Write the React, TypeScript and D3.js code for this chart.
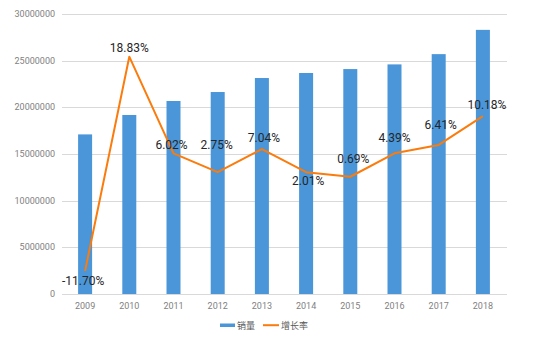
import React, { useEffect, useRef } from "react";
import * as d3 from "d3";

const years = ["2009", "2010", "2011", "2012", "2013", "2014", "2015", "2016", "2017", "2018"];
const sales = [17100000, 19180000, 20680000, 21640000, 23140000, 23680000, 24100000, 24600000, 25700000, 28300000];
const growthPlotted = [-11.7, 18.9, 5.1, 2.4, 5.7, 2.4, 1.75, 5.1, 6.3, 10.4];
const growthLabels = ["-11.70%", "18.83%", "6.02%", "2.75%", "7.04%", "2.01%", "0.69%", "4.39%", "6.41%", "10.18%"];
const yTicks = [0, 5000000, 10000000, 15000000, 20000000, 25000000, 30000000];
const legendNames = ["销量", "增长率"];

// label placement (layout, px)
const labelDx = [-2, 0, -2, -1, 2, 2, 3, 0, 2, 4];
const labelDy = [14, -5, -4, -23, -7, 13, -14, -11, -16, -7];

const W = 540, H = 342;
const BLUE = "#4a96d9";
const ORANGE = "#fb7b0c";

export default function App() {
  const ref = useRef<SVGSVGElement>(null);
  useEffect(() => {
    document.body.style.margin = "0";
    const svg = d3.select(ref.current);
    svg.selectAll("*").remove();

    const x = d3.scaleBand<string>().domain(years).range([63, 505]).padding(0);
    const y = d3.scaleLinear().domain([0, 30000000]).range([294, 14]);
    const y2 = d3.scaleLinear().domain([-15, 25]).range([294, 14]);
    const cx = (d: string) => (x(d) as number) + x.bandwidth() / 2;
    const bw = 14;

    // gridlines
    svg.append("g").selectAll("line").data(yTicks).join("line")
      .attr("x1", 62).attr("x2", 507)
      .attr("y1", d => Math.round(y(d)) + 0.5).attr("y2", d => Math.round(y(d)) + 0.5)
      .attr("stroke", "#d9d9d9").attr("stroke-width", 1);

    // y labels
    svg.append("g").selectAll("text").data(yTicks).join("text")
      .attr("x", 55).attr("y", d => y(d) + 3)
      .attr("text-anchor", "end")
      .attr("font-family", "Roboto, 'Noto Sans', sans-serif")
      .attr("font-size", 9).attr("fill", "#7f7f7f")
      .text(d => String(d));

    // bars
    svg.append("g").selectAll("rect").data(sales).join("rect")
      .attr("x", (d, i) => cx(years[i]) - bw / 2)
      .attr("width", bw)
      .attr("y", d => y(d))
      .attr("height", d => y(0) - y(d))
      .attr("fill", BLUE);

    // x labels
    svg.append("g").selectAll("text").data(years).join("text")
      .attr("x", d => cx(d)).attr("y", 309)
      .attr("text-anchor", "middle")
      .attr("font-family", "Roboto, 'Noto Sans', sans-serif")
      .attr("font-size", 9).attr("fill", "#7f7f7f")
      .text(d => d);

    // line
    const line = d3.line<number>()
      .x((d, i) => cx(years[i]))
      .y(d => y2(d));
    svg.append("path").datum(growthPlotted)
      .attr("d", line)
      .attr("fill", "none").attr("stroke", ORANGE).attr("stroke-width", 2)
      .attr("stroke-linejoin", "round");

    // labels
    svg.append("g").selectAll("text").data(growthLabels).join("text")
      .attr("x", (d, i) => cx(years[i]) + labelDx[i])
      .attr("y", (d, i) => y2(growthPlotted[i]) + labelDy[i])
      .attr("text-anchor", "middle")
      .attr("font-family", "Roboto, 'Noto Sans', sans-serif")
      .attr("font-size", 12).attr("fill", "#262626")
      .text(d => d);

    // legend
    const lg = svg.append("g");
    lg.append("rect").attr("x", 220).attr("y", 323.5).attr("width", 15).attr("height", 3.5).attr("fill", BLUE);
    lg.append("text").attr("x", 237).attr("y", 328.5)
      .attr("font-family", "'Noto Sans CJK SC', sans-serif").attr("font-size", 9).attr("fill", "#595959")
      .text(legendNames[0]);
    lg.append("line").attr("x1", 263).attr("x2", 279).attr("y1", 325.2).attr("y2", 325.2)
      .attr("stroke", ORANGE).attr("stroke-width", 2);
    lg.append("text").attr("x", 281).attr("y", 328.5)
      .attr("font-family", "'Noto Sans CJK SC', sans-serif").attr("font-size", 9).attr("fill", "#595959")
      .text(legendNames[1]);
  }, []);
  return <svg ref={ref} width={W} height={H} style={{ display: "block", background: "#fff" }} />;
}
